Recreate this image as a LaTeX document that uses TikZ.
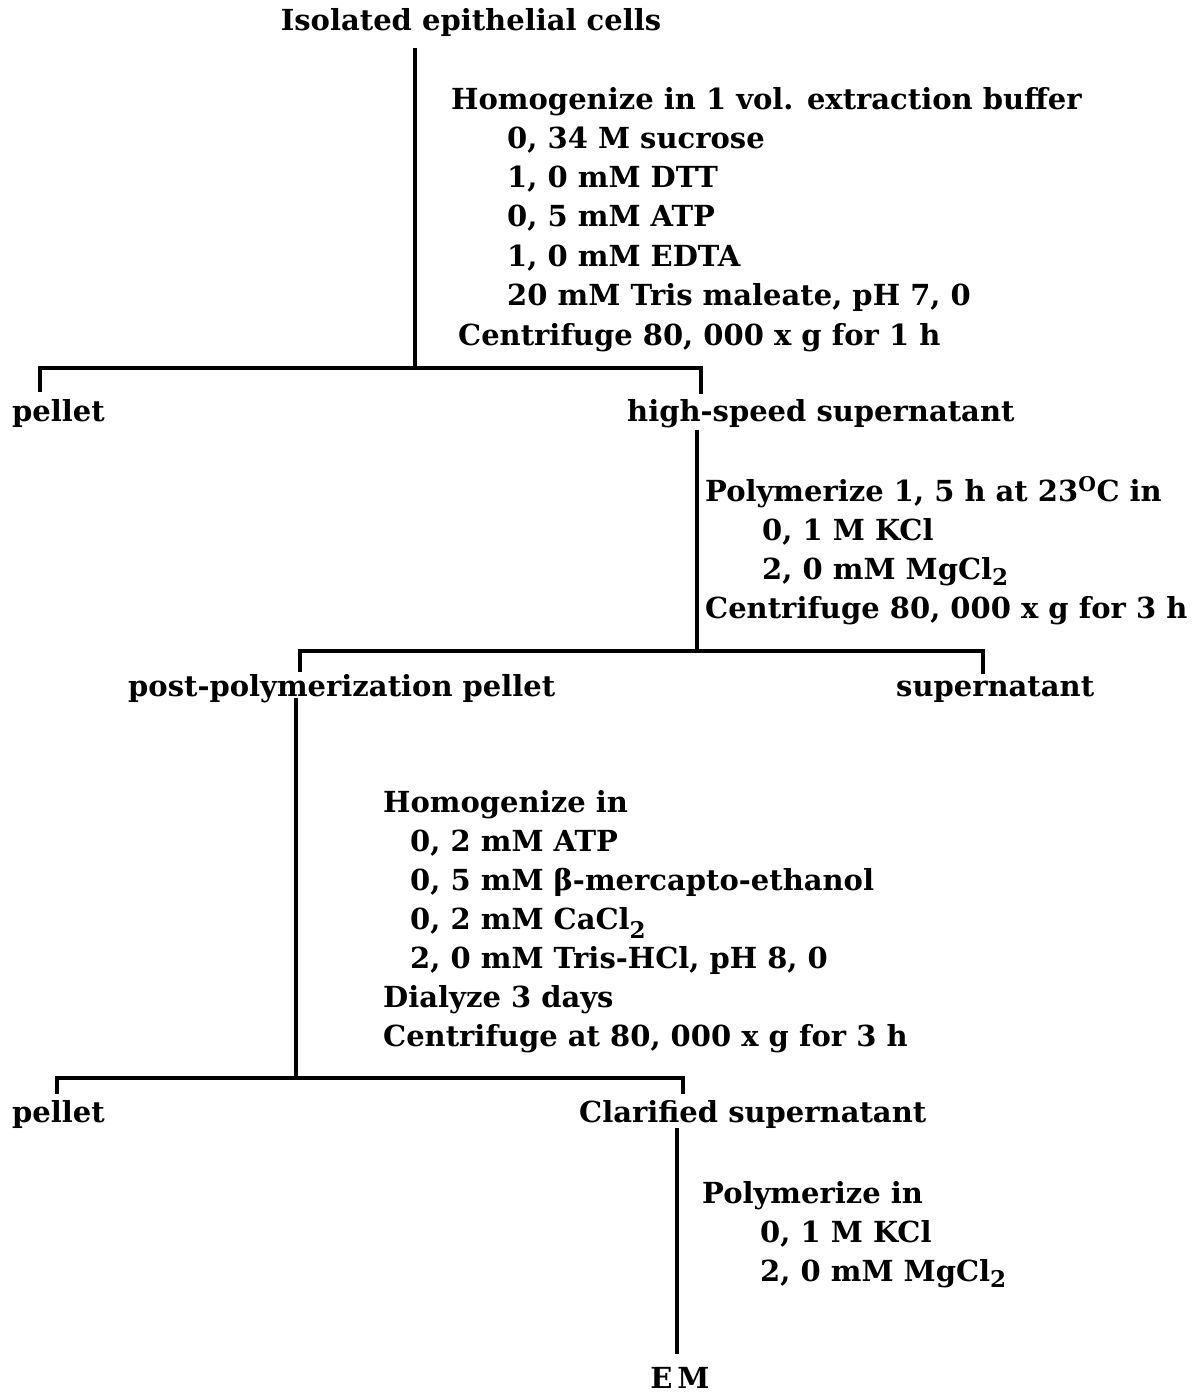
\documentclass[tikz,border=0pt]{standalone}
\usepackage{fontspec}
\setmainfont{DejaVu Serif}[BoldFont={DejaVu Serif Bold}]
\newcommand{\subtwo}{\raisebox{-0.4ex}{\fontsize{23}{23}\selectfont 2}}
\newcommand{\lowtwo}{\raisebox{-0.6ex}{\fontsize{23}{23}\selectfont 2}}
\begin{document}
\begin{tikzpicture}[x=1pt,y=-1pt,
  txt/.style={anchor=base west,inner sep=0pt,font=\fontsize{29}{34}\selectfont\bfseries},
  ctxt/.style={anchor=base,inner sep=0pt,font=\fontsize{29}{34}\selectfont\bfseries},
  conn/.style={line width=3.2pt,line cap=rect,line join=miter}]
\useasboundingbox (0,0) rectangle (1199,1394);
% title
\node[ctxt] (cells) at (471,31) {Isolated epithelial cells};
% block 1
\node[txt] (h1) at (451,110) {Homogenize in 1 vol. extraction buffer};
\node[txt] (h1a) at (507,148) {0, 34 M sucrose};
\node[txt] (h1b) at (507,187) {1, 0 mM DTT};
\node[txt] (h1c) at (507,226) {0, 5 mM ATP};
\node[txt] (h1d) at (507,266) {1, 0 mM EDTA};
\node[txt] (h1e) at (507,305) {20 mM Tris maleate, pH 7, 0};
\node[txt] (h1f) at (458,345) {Centrifuge 80, 000 x g for 1 h};
\node[txt] (pel1) at (12,421) {pellet};
\node[txt] (hss) at (627,421) {high-speed supernatant};
% block 2
\node[txt] (p2) at (705,501) {Polymerize 1, 5 h at 23\textsuperscript{O}C in};
\node[txt] (p2a) at (762,540) {0, 1 M KCl};
\node[txt] (p2b) at (762,579) {2, 0 mM MgCl\subtwo};
\node[txt] (p2c) at (705,618) {Centrifuge 80, 000 x g for 3 h};
\node[txt] (ppp) at (128,696) {post-polymerization pellet};
\node[txt] (sup) at (896,696) {supernatant};
% block 3
\node[txt] (h3) at (383,812) {Homogenize in};
\node[txt] (h3a) at (410,851) {0, 2 mM ATP};
\node[txt] (h3b) at (410,890) {0, 5 mM β-mercapto-ethanol};
\node[txt] (h3c) at (410,929) {0, 2 mM CaCl\lowtwo};
\node[txt] (h3d) at (410,968) {2, 0 mM Tris-HCl, pH 8, 0};
\node[txt] (h3e) at (383,1007) {Dialyze 3 days};
\node[txt] (h3f) at (383,1046) {Centrifuge at 80, 000 x g for 3 h};
\node[txt] (pel2) at (12,1122) {pellet};
\node[txt] (cs) at (579,1122) {Clarified supernatant};
% block 4
\node[txt] (p4) at (702,1203) {Polymerize in};
\node[txt] (p4a) at (760,1242) {0, 1 M KCl};
\node[txt] (p4b) at (760,1281) {2, 0 mM MgCl\subtwo};
\node[ctxt] (em) at (680,1388) {E\,M};
% connector points
\coordinate (a1) at (415,50);
\coordinate (j1) at (415,368);
\coordinate (l1) at (40,390);
\coordinate (r1) at (701,392);
\coordinate (a2) at (697,432);
\coordinate (j2) at (697,651);
\coordinate (l2) at (300,670);
\coordinate (r2) at (983,672);
\coordinate (a3) at (296,700);
\coordinate (j3) at (296,1078);
\coordinate (l3) at (57,1092);
\coordinate (r3) at (683,1092);
\coordinate (a4) at (677,1130);
\coordinate (b4) at (677,1352);
% connectors
\draw[conn] (a1) -- (j1);
\draw[conn] (l1) |- (j1) -| (r1);
\draw[conn] (a2) -- (j2);
\draw[conn] (l2) |- (j2) -| (r2);
\draw[conn] (a3) -- (j3);
\draw[conn] (l3) |- (j3) -| (r3);
\draw[conn] (a4) -- (b4);
\end{tikzpicture}
\end{document}
